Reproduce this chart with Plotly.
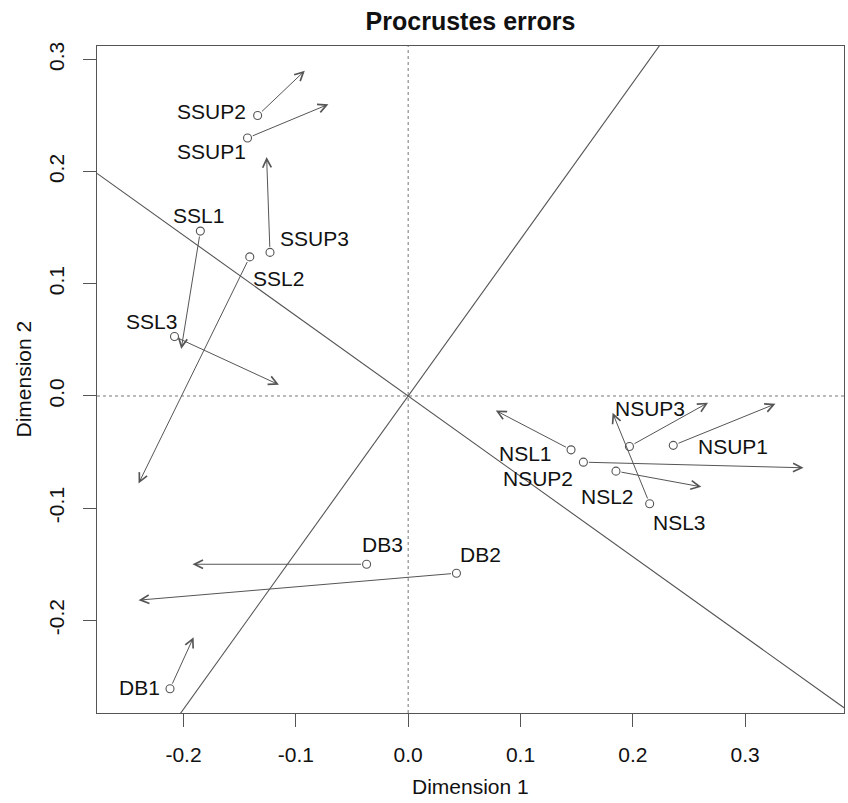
import plotly.graph_objects as go

# ---- data ----
names = ["SSUP1", "SSUP2", "SSUP3", "SSL1", "SSL2", "SSL3",
         "NSUP1", "NSUP2", "NSUP3", "NSL1", "NSL2", "NSL3",
         "DB1", "DB2", "DB3"]
# circle positions (target configuration)
pt_x = [-0.143, -0.134, -0.123, -0.185, -0.141, -0.208,
        0.236, 0.156, 0.197, 0.145, 0.185, 0.215,
        -0.212, 0.043, -0.037]
pt_y = [0.230, 0.250, 0.128, 0.147, 0.124, 0.053,
        -0.044, -0.059, -0.045, -0.048, -0.067, -0.096,
        -0.261, -0.158, -0.150]
# arrow tips (rotated configuration)
end_x = [-0.071, -0.092, -0.126, -0.202, -0.240, -0.115,
         0.327, 0.352, 0.267, 0.078, 0.261, 0.182,
         -0.191, -0.240, -0.192]
end_y = [0.260, 0.290, 0.213, 0.042, -0.078, 0.010,
         -0.007, -0.064, -0.006, -0.013, -0.081, -0.015,
         -0.215, -0.182, -0.150]
# slope of the rotation axis
rot_slope = 1.396

x_ticks = [-0.2, -0.1, 0.0, 0.1, 0.2, 0.3]
y_ticks = [-0.2, -0.1, 0.0, 0.1, 0.2, 0.3]
x_tick_text = ["-0.2", "-0.1", "0.0", "0.1", "0.2", "0.3"]
y_tick_text = ["-0.2", "-0.1", "0.0", "0.1", "0.2", "0.3"]

# ---- styling / layout ----
XR = [-0.277, 0.388]
YR = [-0.2826, 0.312]
LINE = "#555555"
FONT = "Liberation Sans, Arial, Helvetica, sans-serif"
FS = 21

# label offsets in pixels (dx, dy up)
label_off = {
    "SSUP1": (-36, -14), "SSUP2": (-46, 4), "SSUP3": (45, 14),
    "SSL1": (-2, 16), "SSL2": (29, -22), "SSL3": (-23, 15),
    "NSUP1": (60, -1), "NSUP2": (-45, -16), "NSUP3": (21, 38),
    "NSL1": (-46, -4), "NSL2": (-8, -25), "NSL3": (30, -19),
    "DB1": (-31, 1), "DB2": (24, 19), "DB3": (16, 20),
}

fig = go.Figure()

# dotted reference axes
fig.add_trace(go.Scatter(x=[0, 0], y=YR, mode="lines",
                         line=dict(color="#777777", width=1, dash="dot"),
                         hoverinfo="skip", showlegend=False))
fig.add_trace(go.Scatter(x=XR, y=[0, 0], mode="lines",
                         line=dict(color="#777777", width=1, dash="dot"),
                         hoverinfo="skip", showlegend=False))

# rotation axes through origin
perp = -1.0 / rot_slope
fig.add_trace(go.Scatter(x=[XR[0], XR[1]], y=[rot_slope * XR[0], rot_slope * XR[1]],
                         mode="lines", line=dict(color=LINE, width=1.1),
                         hoverinfo="skip", showlegend=False))
fig.add_trace(go.Scatter(x=[XR[0], XR[1]], y=[perp * XR[0], perp * XR[1]],
                         mode="lines", line=dict(color=LINE, width=1.1),
                         hoverinfo="skip", showlegend=False))

# points
fig.add_trace(go.Scatter(x=pt_x, y=pt_y, mode="markers",
                         marker=dict(symbol="circle-open", size=8,
                                     color=LINE, line=dict(width=1.1, color=LINE)),
                         text=names, showlegend=False))

annotations = []
for n, x0, y0, x1, y1 in zip(names, pt_x, pt_y, end_x, end_y):
    annotations.append(dict(
        x=x1, y=y1, ax=x0, ay=y0, xref="x", yref="y", axref="x", ayref="y",
        text="", showarrow=True, arrowhead=5, arrowsize=1.7, arrowwidth=1,
        arrowcolor=LINE, standoff=0, startstandoff=4))
    dx, dy = label_off[n]
    annotations.append(dict(
        x=x0, y=y0, xref="x", yref="y", text=n, showarrow=False,
        xshift=dx, yshift=dy, xanchor="center", yanchor="middle",
        font=dict(size=FS, color="#111111", family=FONT)))

# axis titles
annotations.append(dict(x=0.5, y=0, xref="paper", yref="paper", text="Dimension 1",
                        showarrow=False, xanchor="center", yanchor="middle",
                        yshift=-73, font=dict(size=FS, color="#111111", family=FONT)))
annotations.append(dict(x=0, y=0.5, xref="paper", yref="paper", text="Dimension 2",
                        showarrow=False, xanchor="center", yanchor="middle",
                        textangle=-90, xshift=-74,
                        font=dict(size=FS, color="#111111", family=FONT)))

fig.update_layout(
    width=848, height=803,
    margin=dict(l=97, r=4, t=46, b=90, autoexpand=False),
    paper_bgcolor="white", plot_bgcolor="white",
    font=dict(family=FONT, size=FS, color="#111111"),
    title=dict(text="<b>Procrustes errors</b>", x=0.5, xref="paper",
               y=1 - 21 / 803, yref="container", yanchor="middle",
               font=dict(size=25, family=FONT, color="#111111")),
    annotations=annotations,
    showlegend=False,
)
fig.update_xaxes(range=XR, tickvals=x_ticks, ticktext=x_tick_text,
                 showgrid=False, zeroline=False, automargin=False,
                 showline=True, mirror=True, linecolor=LINE, linewidth=1.3,
                 ticks="outside", ticklen=13, tickcolor=LINE, tickwidth=1,
                 ticklabelstandoff=10, tickfont=dict(size=FS, family=FONT))
fig.update_yaxes(range=YR, tickvals=y_ticks, ticktext=y_tick_text,
                 showgrid=False, zeroline=False, tickangle=-90, automargin=False,
                 showline=True, mirror=True, linecolor=LINE, linewidth=1.3,
                 ticks="outside", ticklen=13, tickcolor=LINE, tickwidth=1,
                 ticklabelstandoff=10, tickfont=dict(size=FS, family=FONT))

fig.write_html("out.html", config={"displayModeBar": False},
               post_script="document.body.style.margin='0';")
